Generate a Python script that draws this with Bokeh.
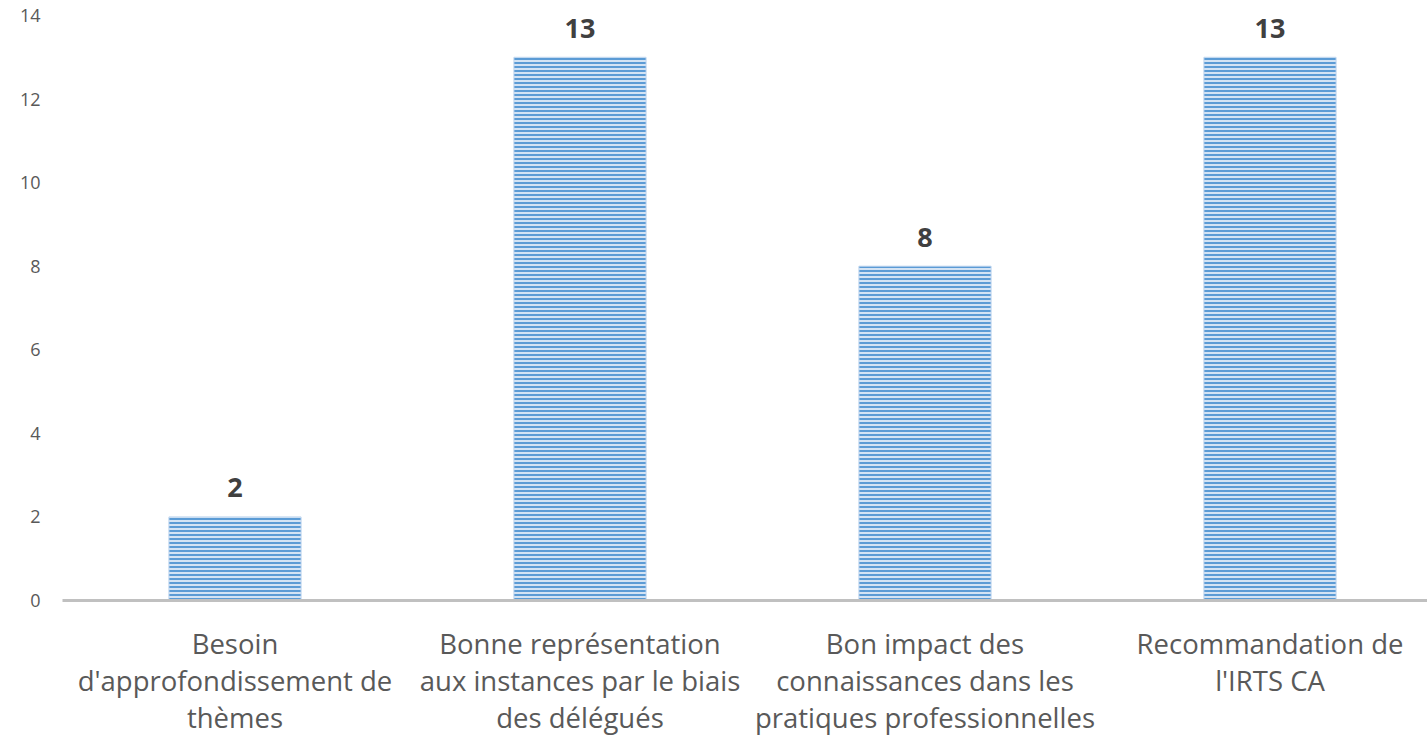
from bokeh.plotting import figure
from bokeh.models import ColumnDataSource, Range1d, FixedTicker
from bokeh.core.properties import value
from bokeh.embed import file_html
from bokeh.resources import INLINE

categories = [
    "Besoin\nd'approfondissement de\nthèmes",
    "Bonne représentation\naux instances par le biais\ndes délégués",
    "Bon impact des\nconnaissances dans les\npratiques professionnelles",
    "Recommandation de\nl'IRTS CA",
]
values = [2, 13, 8, 13]
labels = [str(v) for v in values]
y_ticks = [0, 2, 4, 6, 8, 10, 12, 14]

xpos = [i + 0.5 for i in range(len(categories))]
src = ColumnDataSource(dict(x=xpos, val=values, lab=labels))

W, H = 1427, 739
left, top = 62, 15
frame_w = W - left
p = figure(x_range=Range1d(0, frame_w / 345.0), y_range=Range1d(0, 14),
           width=W, height=H,
           output_backend="svg", toolbar_location=None,
           min_border_left=left, min_border_right=0, min_border_top=top,
           min_border_bottom=H - 600)
p.outline_line_color = None
p.background_fill_color = "white"
p.border_fill_color = "white"
p.xgrid.grid_line_color = None
p.ygrid.grid_line_color = None

p.vbar(x="x", top="val", width=0.383, source=src,
       fill_color="#d3e3f4", line_color="#bcd4ee", line_width=1,
       hatch_pattern="horizontal_line", hatch_color="#5b9bd5",
       hatch_scale=4, hatch_weight=2)

p.text(x="x", y="val", text="lab", source=src, y_offset=-29,
       text_align="center", text_baseline="alphabetic",
       text_font=value("Open Sans"), text_font_style="bold",
       text_font_size="27px", text_color="#404040")

p.yaxis.ticker = FixedTicker(ticks=y_ticks)
p.yaxis.axis_line_color = None
p.yaxis.major_tick_line_color = None
p.yaxis.minor_tick_line_color = None
p.yaxis.major_label_text_font = "Open Sans"
p.yaxis.major_label_text_font_size = "18px"
p.yaxis.major_label_text_color = "#595959"
p.yaxis.major_label_standoff = 16

p.xaxis.ticker = FixedTicker(ticks=xpos)
p.xaxis.major_label_overrides = {x: c for x, c in zip(xpos, categories)}
p.xaxis.axis_line_color = "#c0c0c0"
p.xaxis.axis_line_width = 3
p.xaxis.major_tick_line_color = None
p.xaxis.minor_tick_line_color = None
p.xaxis.major_label_text_font = "Open Sans"
p.xaxis.major_label_text_font_size = "27.5px"
p.xaxis.major_label_text_color = "#595959"
p.xaxis.major_label_standoff = 18
p.xaxis.major_label_text_line_height = 1.0

open("out.html", "w").write(file_html(p, INLINE))
